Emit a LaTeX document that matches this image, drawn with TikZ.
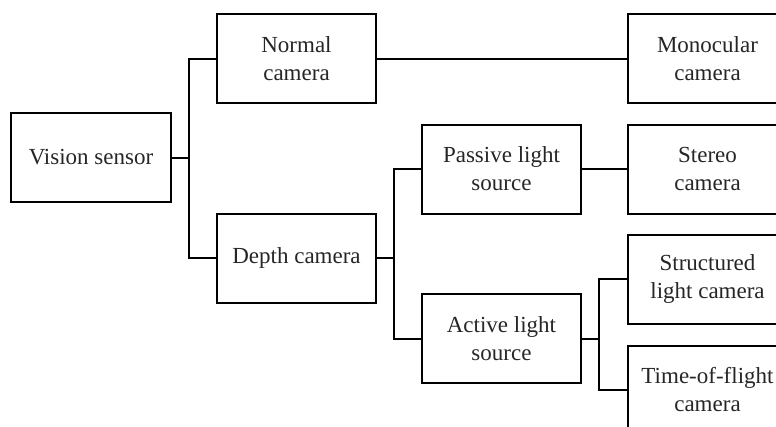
\documentclass[tikz,border=0pt]{standalone}
\usepackage{fontspec}
\setmainfont{Liberation Serif}
\begin{document}
\begin{tikzpicture}[x=1pt,y=-1pt,
  box/.style={draw=black, line width=2pt, rectangle, minimum width=159pt, minimum height=89pt,
    inner sep=0pt, align=center, font=\fontsize{23}{28}\selectfont, text=black!85},
  link/.style={draw=black, line width=2pt}]
\useasboundingbox (0,0) rectangle (776,426);
\clip (0,0) rectangle (776,426);

% column 1
\node[box, minimum width=160pt] (vision) at (91,157.5) {Vision sensor};
% column 2
\node[box] (normal) at (296.5,58.5) {Normal\\camera};
\node[box] (depth) at (296.5,258) {Depth camera};
% column 3
\node[box] (passive) at (501.5,169) {Passive light\\source};
\node[box] (active) at (501.5,338.5) {Active light\\source};
% column 4
\node[box] (mono) at (707.5,58.5) {Monocular\\camera};
\node[box] (stereo) at (707.5,169) {Stereo\\camera};
\node[box] (struct) at (707.5,279) {Structured\\light camera};
\node[box] (tof) at (707.5,390) {Time-of-flight\\camera};

% branch points
\coordinate (j1) at (189,157.5);
\coordinate (j2) at (394,258);
\coordinate (j3) at (599,338.5);

% connectors
\draw[link] (vision.east) -- (j1);
\draw[link] (normal.west) -| (j1) |- (depth.west);
\draw[link] (depth.east) -- (j2);
\draw[link] (passive.west) -| (j2) |- (active.west);
\draw[link] (active.east) -- (j3);
\draw[link] (struct.west) -| (j3) |- (tof.west);
\draw[link] (normal.east) -- (mono.west);
\draw[link] (passive.east) -- (stereo.west);
\end{tikzpicture}
\end{document}
